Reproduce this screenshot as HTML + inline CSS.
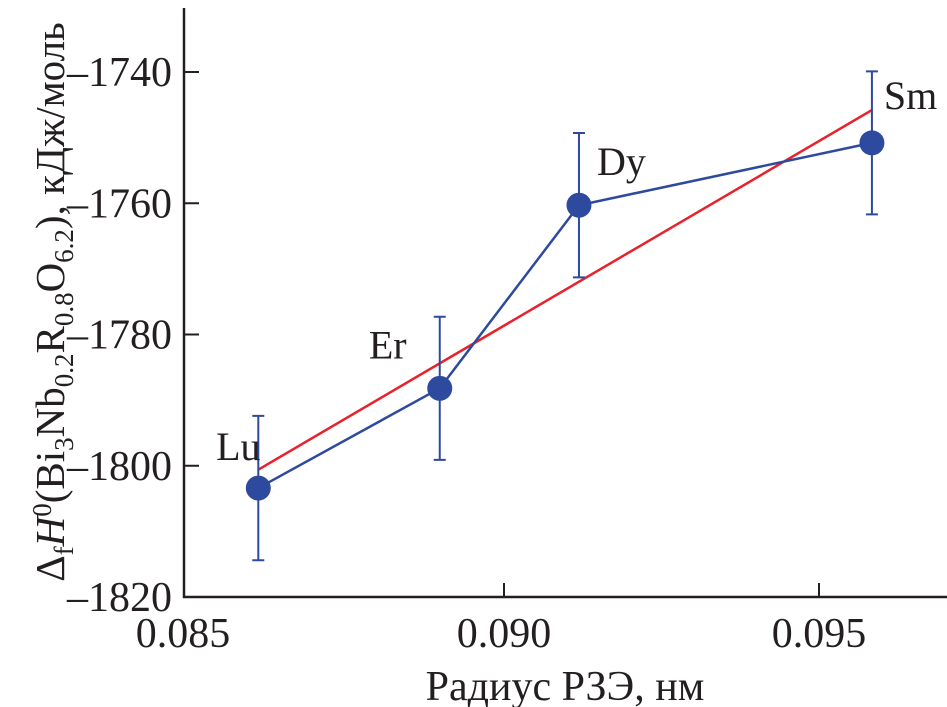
<!DOCTYPE html>
<html><head><meta charset="utf-8"><style>
body{margin:0;background:#fff}
svg{display:block}
text{font-family:"Liberation Serif",serif;fill:#231f20}
</style></head><body>
<svg id="c" width="947" height="707"></svg>
<script>
const labels=["Lu","Er","Dy","Sm"];
const radii=[0.0861,0.08898,0.09119,0.09584];
const enthalpy=[-1803.4,-1788.2,-1760.3,-1750.8];
const errors=[11,10.9,11,10.9];
const fitX=[0.0861,0.09584];
const fitY=[-1800.6,-1745.8];
const xTicks=[0.085,0.090,0.095];
const yTicks=[-1740,-1760,-1780,-1800,-1820];
const NS="http://www.w3.org/2000/svg";
const svg=document.getElementById('c');
const X=v=>189+(v-0.085)*63000;
const Y=v=>597-(v+1820)*6.5625;
function el(t,a,p){const e=document.createElementNS(NS,t);for(const k in a)e.setAttribute(k,a[k]);(p||svg).appendChild(e);return e;}
let e;
e=el('line',{x1:184,y1:8,x2:184,y2:598,stroke:'#231f20','stroke-width':2.5});


e=el('line',{x1:183,y1:597,x2:947,y2:597,stroke:'#231f20','stroke-width':2.5});


xTicks.forEach(t=>{
  if(t>0.0851){e=el('line',{x1:X(t),y1:583,x2:X(t),y2:597,stroke:'#231f20','stroke-width':2});
  
  }
  e=el('text',{x:X(t)-(t<0.0851?6:0),y:647,'font-size':42,'text-anchor':'middle'});e.textContent=t.toFixed(3);
  
  
});
yTicks.forEach(t=>{
  e=el('line',{x1:184,y1:Y(t),x2:199,y2:Y(t),stroke:'#231f20','stroke-width':2});
  
  
  e=el('text',{x:172,y:Y(t)+14,'font-size':42,'text-anchor':'end'});e.textContent='\u2013'+Math.abs(t);
  
  
});
e=el('text',{x:565,y:700,'font-size':42,'text-anchor':'middle'});e.textContent='Радиус РЗЭ, нм';


e=el('text',{transform:'translate(64,302) rotate(-90)','font-size':41,'text-anchor':'middle'});
e.innerHTML='Δ<tspan font-size="27" dy="9">f</tspan><tspan dy="-9" font-style="italic">H</tspan><tspan font-size="27" dy="-13">0</tspan><tspan dy="13">(Bi</tspan><tspan font-size="27" dy="9">3</tspan><tspan dy="-9">Nb</tspan><tspan font-size="27" dy="9">0.2</tspan><tspan dy="-9">R</tspan><tspan font-size="27" dy="9">0.8</tspan><tspan dy="-9">O</tspan><tspan font-size="27" dy="9">6.2</tspan><tspan dy="-9">), кДж/моль</tspan>';


e=el('line',{x1:X(fitX[0]),y1:Y(fitY[0]),x2:X(fitX[1]),y2:Y(fitY[1]),stroke:'#e8212b','stroke-width':2.5});


e=el('polyline',{points:radii.map((r,i)=>X(r)+','+Y(enthalpy[i])).join(' '),fill:'none',stroke:'#2e4a9e','stroke-width':2.5});


const lo=[[-20,-28],[-52,-30],[18,-30],[12,-34]];
radii.forEach((r,i)=>{
  const x=X(r),y1=Y(enthalpy[i]+errors[i]),y2=Y(enthalpy[i]-errors[i]);
  e=el('path',{d:`M${x},${y1}V${y2}M${x-6},${y1}H${x+6}M${x-6},${y2}H${x+6}`,stroke:'#2e4a9e','stroke-width':2,fill:'none'});
  
  
  e=el('circle',{cx:x,cy:Y(enthalpy[i]),r:12.5,fill:'#2e4a9e'});
  
  
  e=el('text',{x:x+lo[i][0],y:Y(enthalpy[i])+lo[i][1],'font-size':40,'text-anchor':i==0||i==1?'middle':'start'});
  e.textContent=labels[i];
  
  
});
</script>
</body></html>
